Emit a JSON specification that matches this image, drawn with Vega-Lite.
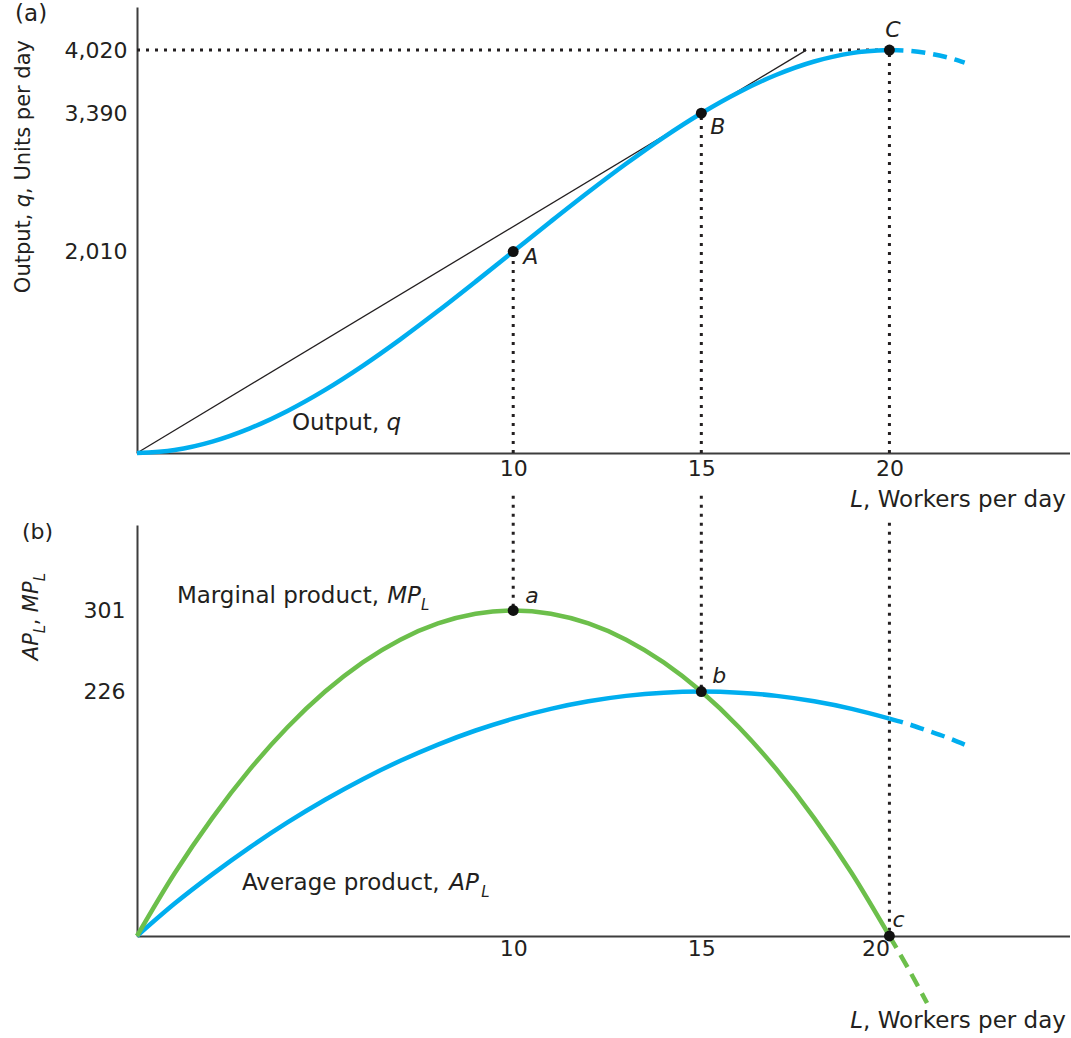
{
  "$schema": "https://vega.github.io/schema/vega-lite/v6.json",
  "background": "white",
  "padding": {"left": 12, "top": 3, "right": 0, "bottom": 0},
  "config": {"view": {"stroke": null}, "font": "DejaVu Sans"},
  "spacing": 72,
  "bounds": "flush",
  "datasets": {
    "product": [
      {"L": 0, "q": 0, "AP": 0, "MP": 0},
      {"L": 1, "q": 30, "AP": 30, "MP": 58},
      {"L": 2, "q": 114, "AP": 57, "MP": 109},
      {"L": 3, "q": 246, "AP": 82, "MP": 154},
      {"L": 4, "q": 420, "AP": 105, "MP": 193},
      {"L": 5, "q": 630, "AP": 126, "MP": 226},
      {"L": 6, "q": 870, "AP": 145, "MP": 253},
      {"L": 7, "q": 1134, "AP": 162, "MP": 274},
      {"L": 8, "q": 1416, "AP": 177, "MP": 289},
      {"L": 9, "q": 1710, "AP": 190, "MP": 298},
      {"L": 10, "q": 2010, "AP": 201, "MP": 301},
      {"L": 11, "q": 2310, "AP": 210, "MP": 298},
      {"L": 12, "q": 2604, "AP": 217, "MP": 289},
      {"L": 13, "q": 2886, "AP": 222, "MP": 274},
      {"L": 14, "q": 3150, "AP": 225, "MP": 253},
      {"L": 15, "q": 3390, "AP": 226, "MP": 226},
      {"L": 16, "q": 3600, "AP": 225, "MP": 193},
      {"L": 17, "q": 3774, "AP": 222, "MP": 154},
      {"L": 18, "q": 3906, "AP": 217, "MP": 109},
      {"L": 19, "q": 3990, "AP": 210, "MP": 58},
      {"L": 20, "q": 4020, "AP": 201, "MP": 0}
    ],
    "ext": [
      {"L": 20, "q": 4020, "AP": 201},
      {"L": 20.5, "q": 4013, "AP": 196},
      {"L": 21, "q": 3990, "AP": 190},
      {"L": 21.5, "q": 3951, "AP": 184},
      {"L": 22, "q": 3894, "AP": 177}
    ],
    "mp_ext": [
      {"L": 20, "MP": 0},
      {"L": 20.5, "MP": -30},
      {"L": 21, "MP": -62}
    ],
    "dotted_top": [
      {"L": 0, "v": 4020, "L2": 20, "v2": 4020},
      {"L": 10, "v": 0, "L2": 10, "v2": 2010},
      {"L": 15, "v": 0, "L2": 15, "v2": 3390},
      {"L": 20, "v": 0, "L2": 20, "v2": 4020}
    ],
    "dotted_bottom": [
      {"L": 10, "v": 407, "L2": 10, "v2": 301},
      {"L": 15, "v": 407, "L2": 15, "v2": 226},
      {"L": 20, "v": 382, "L2": 20, "v2": 0}
    ],
    "ray": [
      {"L": 0, "v": 0},
      {"L": 17.79, "v": 4020}
    ],
    "points_top": [
      {"L": 10, "v": 2010},
      {"L": 15, "v": 3390},
      {"L": 20, "v": 4020}
    ],
    "points_bottom": [
      {"L": 10, "v": 301},
      {"L": 15, "v": 226},
      {"L": 20, "v": 0}
    ],
    "top_plain": [
      {"L": 4.12, "v": 229, "t": "Output,"},
      {"L": 19.3, "v": -538, "t": ", Workers per day"},
      {"L": -3.24, "v": 4307, "t": "(a)"}
    ],
    "top_italic": [
      {"L": 6.63, "v": 229, "t": "q"},
      {"L": 18.96, "v": -538, "t": "L"}
    ],
    "top_pt_labels": [
      {"L": 10.27, "v": 1884, "t": "A"},
      {"L": 15.24, "v": 3180, "t": "B"},
      {"L": 19.89, "v": 4147, "t": "C"}
    ],
    "top_rot_plain": [
      {"L": -2.85, "v": 1595, "t": "Output,"},
      {"L": -2.85, "v": 2585, "t": ", Units per day"}
    ],
    "top_rot_italic": [
      {"L": -2.85, "v": 2453, "t": "q"}
    ],
    "bottom_plain": [
      {"L": 1.06, "v": 307.8, "t": "Marginal product,"},
      {"L": 2.79, "v": 42.5, "t": "Average product,"},
      {"L": 19.3, "v": -85, "t": ", Workers per day"}
    ],
    "bottom_panel_tag": [
      {"L": -3.06, "v": 367, "t": "(b)"}
    ],
    "bottom_italic": [
      {"L": 6.65, "v": 307.8, "t": "MP"},
      {"L": 8.3, "v": 42.5, "t": "AP"},
      {"L": 18.96, "v": -85, "t": "L"}
    ],
    "bottom_pt_labels": [
      {"L": 10.32, "v": 307.8, "t": "a"},
      {"L": 15.29, "v": 233.8, "t": "b"},
      {"L": 20.08, "v": 8.3, "t": "c"}
    ],
    "bottom_sub": [
      {"L": 7.55, "v": 301, "t": "L"},
      {"L": 9.15, "v": 36, "t": "L"}
    ],
    "bottom_rot_italic": [
      {"L": -2.63, "v": 255, "t": "AP"},
      {"L": -2.63, "v": 299.4, "t": "MP"}
    ],
    "bottom_rot_plain": [
      {"L": -2.63, "v": 287.4, "t": ","}
    ],
    "bottom_rot_sub": [
      {"L": -2.45, "v": 280, "t": "L"},
      {"L": -2.45, "v": 328, "t": "L"}
    ]
  },
  "vconcat": [
    {
      "width": 933,
      "height": 446,
      "layer": [
        {
          "data": {"name": "dotted_top"},
          "mark": {"type": "rule", "strokeDash": [3, 6], "strokeWidth": 3, "color": "#231f20"},
          "encoding": {
            "x": {"field": "L", "type": "quantitative", "title": null,
              "scale": {"domain": [0, 24.8], "nice": false, "zero": false},
              "axis": {"values": [10, 15, 20], "title": null, "ticks": false, "tickSize": 0, "labelPadding": 5, "labelFontSize": 22, "labelFont": "DejaVu Sans", "labelColor": "#231f20", "domainColor": "#3d3d3d", "domainWidth": 2, "grid": false, "labelFlush": false, "labelOverlap": false}},
            "y": {"field": "v", "type": "quantitative", "title": null,
              "scale": {"domain": [0, 4450], "nice": false, "zero": false},
              "axis": {"values": [2010, 3390, 4020], "labelExpr": "format(datum.value, ',')", "title": null, "ticks": false, "tickSize": 0, "labelPadding": 10, "labelFontSize": 22, "labelFont": "DejaVu Sans", "labelColor": "#231f20", "domainColor": "#3d3d3d", "domainWidth": 2, "grid": false, "labelOverlap": false}},
            "x2": {"field": "L2"},
            "y2": {"field": "v2"}
          }
        },
        {
          "data": {"name": "ray"},
          "mark": {"type": "line", "color": "#231f20", "strokeWidth": 1.3},
          "encoding": {"x": {"field": "L", "type": "quantitative"}, "y": {"field": "v", "type": "quantitative"}}
        },
        {
          "data": {"name": "product"},
          "mark": {"type": "line", "color": "#00aeef", "strokeWidth": 4.5, "interpolate": "monotone"},
          "encoding": {"x": {"field": "L", "type": "quantitative"}, "y": {"field": "q", "type": "quantitative"}}
        },
        {
          "data": {"name": "ext"},
          "mark": {"type": "line", "color": "#00aeef", "strokeWidth": 4.5, "interpolate": "monotone", "strokeDash": [14, 8]},
          "encoding": {"x": {"field": "L", "type": "quantitative"}, "y": {"field": "q", "type": "quantitative"}}
        },
        {
          "data": {"name": "points_top"},
          "mark": {"type": "circle", "color": "#111111", "size": 120, "opacity": 1},
          "encoding": {"x": {"field": "L", "type": "quantitative"}, "y": {"field": "v", "type": "quantitative"}}
        },
        {
          "data": {"name": "top_plain"},
          "mark": {"type": "text", "align": "left", "baseline": "alphabetic", "fontSize": 23, "font": "DejaVu Sans", "color": "#231f20"},
          "encoding": {"x": {"field": "L", "type": "quantitative"}, "y": {"field": "v", "type": "quantitative"}, "text": {"field": "t"}}
        },
        {
          "data": {"name": "top_italic"},
          "mark": {"type": "text", "align": "left", "baseline": "alphabetic", "fontSize": 23, "font": "DejaVu Sans", "fontStyle": "italic", "color": "#231f20"},
          "encoding": {"x": {"field": "L", "type": "quantitative"}, "y": {"field": "v", "type": "quantitative"}, "text": {"field": "t"}}
        },
        {
          "data": {"name": "top_pt_labels"},
          "mark": {"type": "text", "align": "left", "baseline": "alphabetic", "fontSize": 22, "font": "DejaVu Sans", "fontStyle": "italic", "color": "#231f20"},
          "encoding": {"x": {"field": "L", "type": "quantitative"}, "y": {"field": "v", "type": "quantitative"}, "text": {"field": "t"}}
        },
        {
          "data": {"name": "top_rot_plain"},
          "mark": {"type": "text", "align": "left", "baseline": "alphabetic", "angle": 270, "fontSize": 21, "font": "DejaVu Sans", "color": "#231f20"},
          "encoding": {"x": {"field": "L", "type": "quantitative"}, "y": {"field": "v", "type": "quantitative"}, "text": {"field": "t"}}
        },
        {
          "data": {"name": "top_rot_italic"},
          "mark": {"type": "text", "align": "left", "baseline": "alphabetic", "angle": 270, "fontSize": 21, "font": "DejaVu Sans", "fontStyle": "italic", "color": "#231f20"},
          "encoding": {"x": {"field": "L", "type": "quantitative"}, "y": {"field": "v", "type": "quantitative"}, "text": {"field": "t"}}
        }
      ]
    },
    {
      "width": 933,
      "height": 411,
      "layer": [
        {
          "data": {"name": "dotted_bottom"},
          "mark": {"type": "rule", "strokeDash": [3, 6], "strokeWidth": 3, "color": "#231f20"},
          "encoding": {
            "x": {"field": "L", "type": "quantitative", "title": null,
              "scale": {"domain": [0, 24.8], "nice": false, "zero": false},
              "axis": {"values": [10, 15, 20], "title": null, "ticks": false, "tickSize": 0, "labelPadding": 2, "labelFontSize": 22, "labelFont": "DejaVu Sans", "labelColor": "#231f20", "domainColor": "#3d3d3d", "domainWidth": 2, "grid": false, "labelFlush": false, "labelOverlap": false,
                "labelAlign": {"condition": {"test": "datum.value === 20", "value": "right"}, "value": "center"}}},
            "y": {"field": "v", "type": "quantitative", "title": null,
              "scale": {"domain": [0, 380], "nice": false, "zero": false},
              "axis": {"values": [226, 301], "title": null, "ticks": false, "tickSize": 0, "labelPadding": 12, "labelFontSize": 22, "labelFont": "DejaVu Sans", "labelColor": "#231f20", "domainColor": "#3d3d3d", "domainWidth": 2, "grid": false, "labelOverlap": false}},
            "x2": {"field": "L2"},
            "y2": {"field": "v2"}
          }
        },
        {
          "data": {"name": "product"},
          "mark": {"type": "line", "color": "#00aeef", "strokeWidth": 4.5, "interpolate": "monotone"},
          "encoding": {"x": {"field": "L", "type": "quantitative"}, "y": {"field": "AP", "type": "quantitative"}}
        },
        {
          "data": {"name": "ext"},
          "mark": {"type": "line", "color": "#00aeef", "strokeWidth": 4.5, "interpolate": "monotone", "strokeDash": [14, 8]},
          "encoding": {"x": {"field": "L", "type": "quantitative"}, "y": {"field": "AP", "type": "quantitative"}}
        },
        {
          "data": {"name": "product"},
          "mark": {"type": "line", "color": "#6cbf4b", "strokeWidth": 4.5, "interpolate": "monotone"},
          "encoding": {"x": {"field": "L", "type": "quantitative"}, "y": {"field": "MP", "type": "quantitative"}}
        },
        {
          "data": {"name": "mp_ext"},
          "mark": {"type": "line", "color": "#6cbf4b", "strokeWidth": 4.5, "interpolate": "monotone", "strokeDash": [14, 8]},
          "encoding": {"x": {"field": "L", "type": "quantitative"}, "y": {"field": "MP", "type": "quantitative"}}
        },
        {
          "data": {"name": "points_bottom"},
          "mark": {"type": "circle", "color": "#111111", "size": 120, "opacity": 1},
          "encoding": {"x": {"field": "L", "type": "quantitative"}, "y": {"field": "v", "type": "quantitative"}}
        },
        {
          "data": {"name": "bottom_plain"},
          "mark": {"type": "text", "align": "left", "baseline": "alphabetic", "fontSize": 23, "font": "DejaVu Sans", "color": "#231f20"},
          "encoding": {"x": {"field": "L", "type": "quantitative"}, "y": {"field": "v", "type": "quantitative"}, "text": {"field": "t"}}
        },
        {
          "data": {"name": "bottom_panel_tag"},
          "mark": {"type": "text", "align": "left", "baseline": "alphabetic", "fontSize": 22, "font": "DejaVu Sans", "color": "#231f20"},
          "encoding": {"x": {"field": "L", "type": "quantitative"}, "y": {"field": "v", "type": "quantitative"}, "text": {"field": "t"}}
        },
        {
          "data": {"name": "bottom_italic"},
          "mark": {"type": "text", "align": "left", "baseline": "alphabetic", "fontSize": 23, "font": "DejaVu Sans", "fontStyle": "italic", "color": "#231f20"},
          "encoding": {"x": {"field": "L", "type": "quantitative"}, "y": {"field": "v", "type": "quantitative"}, "text": {"field": "t"}}
        },
        {
          "data": {"name": "bottom_pt_labels"},
          "mark": {"type": "text", "align": "left", "baseline": "alphabetic", "fontSize": 22, "font": "DejaVu Sans", "fontStyle": "italic", "color": "#231f20"},
          "encoding": {"x": {"field": "L", "type": "quantitative"}, "y": {"field": "v", "type": "quantitative"}, "text": {"field": "t"}}
        },
        {
          "data": {"name": "bottom_sub"},
          "mark": {"type": "text", "align": "left", "baseline": "alphabetic", "fontSize": 15, "font": "DejaVu Sans", "fontStyle": "italic", "color": "#231f20"},
          "encoding": {"x": {"field": "L", "type": "quantitative"}, "y": {"field": "v", "type": "quantitative"}, "text": {"field": "t"}}
        },
        {
          "data": {"name": "bottom_rot_italic"},
          "mark": {"type": "text", "align": "left", "baseline": "alphabetic", "angle": 270, "fontSize": 21, "font": "DejaVu Sans", "fontStyle": "italic", "color": "#231f20"},
          "encoding": {"x": {"field": "L", "type": "quantitative"}, "y": {"field": "v", "type": "quantitative"}, "text": {"field": "t"}}
        },
        {
          "data": {"name": "bottom_rot_plain"},
          "mark": {"type": "text", "align": "left", "baseline": "alphabetic", "angle": 270, "fontSize": 21, "font": "DejaVu Sans", "color": "#231f20"},
          "encoding": {"x": {"field": "L", "type": "quantitative"}, "y": {"field": "v", "type": "quantitative"}, "text": {"field": "t"}}
        },
        {
          "data": {"name": "bottom_rot_sub"},
          "mark": {"type": "text", "align": "left", "baseline": "alphabetic", "angle": 270, "fontSize": 15, "font": "DejaVu Sans", "fontStyle": "italic", "color": "#231f20"},
          "encoding": {"x": {"field": "L", "type": "quantitative"}, "y": {"field": "v", "type": "quantitative"}, "text": {"field": "t"}}
        }
      ]
    }
  ]
}
